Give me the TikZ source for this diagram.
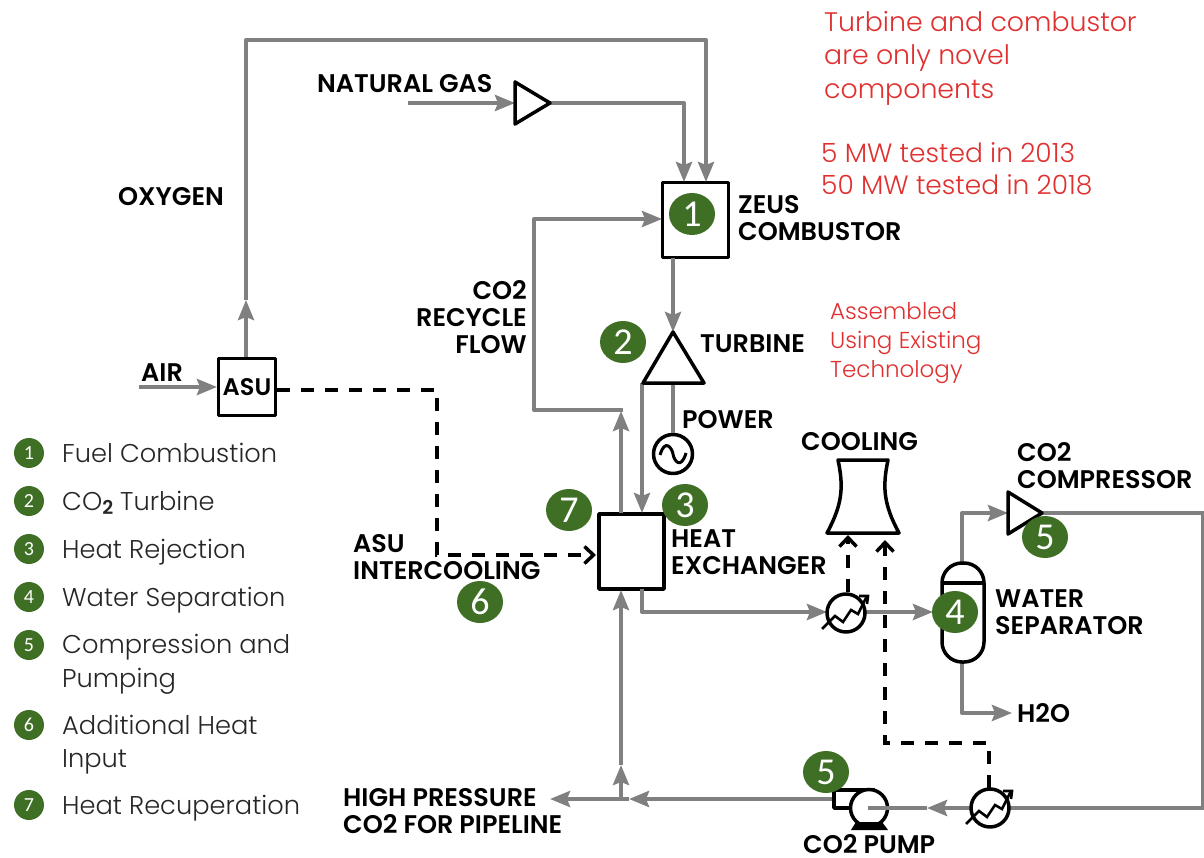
\documentclass[tikz,border=0pt]{standalone}
\usepackage{fontspec}
\setmainfont{Poppins}
\newfontfamily\lgt{Poppins Light}
\newfontfamily\lab{Poppins SemiBold}
\newfontfamily\calf{Carlito}
\usetikzlibrary{arrows.meta,calc,shapes.geometric}
\definecolor{pipe}{HTML}{808080}
\definecolor{badge}{HTML}{3F6F25}
\definecolor{note}{HTML}{E03030}
\tikzset{
  x=1pt,y=-1pt,
  pipeline/.style={draw=pipe,line width=4pt,line join=round},
  garrow/.style={pipeline,-{Stealth[length=20pt,width=16pt,inset=3pt]}},
  util/.style={draw=black,line width=3.5pt,dash pattern=on 13pt off 11pt},
  uarrow/.style={util,-{Straight Barb[length=9pt,width=17pt,line width=3.5pt]}},
  equip/.style={draw=black,line width=3.5pt,fill=white,inner sep=0pt,line join=round},
  tag/.style={font=\lab\fontsize{25.5}{27}\selectfont,align=left,anchor=west,inner sep=0pt,text=black},
  num/.style={ellipse,fill=badge,minimum width=46pt,minimum height=42pt,inner sep=0pt,text=white,font=\calf\fontsize{38}{38}\selectfont},
  lnum/.style={circle,fill=badge,minimum size=30pt,inner sep=0pt,text=white,font=\calf\fontsize{20}{20}\selectfont},
  ltext/.style={font=\lgt\fontsize{25.7}{33.5}\selectfont,align=left,anchor=west,inner sep=0pt,text=black!85},
  red1/.style={font=\lgt\fontsize{26.8}{33.5}\selectfont,align=left,anchor=west,inner sep=0pt,text=note},
  red2/.style={font=\lgt\fontsize{26.5}{32}\selectfont,align=left,anchor=west,inner sep=0pt,text=note},
  red3/.style={font=\lgt\fontsize{23}{29}\selectfont,align=left,anchor=west,inner sep=0pt,text=note},
}
\newcommand{\coolersym}[3]{%
  \node[equip,circle,minimum size=38pt] (#1) at (#2,#3) {};
  \draw[line width=2.6pt,black,line join=miter] (#2-24,#3+16) -- (#2-11,#3+3) -- (#2-3,#3+9) -- (#2+5,#3-3) -- (#2+12,#3+1) -- (#2+21,#3-17);
  \draw[line width=2.6pt,black] (#2+13,#3-17) -- (#2+22,#3-17) -- (#2+21,#3-9);
}
\begin{document}
\begin{tikzpicture}
\useasboundingbox (0,0) rectangle (1204,858);
% equipment
\node[equip,minimum width=66pt,minimum height=75pt] (comb) at (695.5,220) {};
\node[equip,minimum width=57pt,minimum height=57pt] (asu) at (247,387) {\lab\fontsize{24}{24}\selectfont ASU};
\node[equip,minimum width=65pt,minimum height=75pt] (hx) at (631.5,551.5) {};
\node[equip,circle,minimum size=39pt] (gen) at (673,454) {};
\coordinate (turbA) at (673,332);
\coordinate (turbL) at (643,383);
\coordinate (turbR) at (704,383);
\coordinate (ngB1) at (515,82);
\coordinate (ngB2) at (515,124);
\coordinate (ngT) at (550,103);
\coordinate (ccB1) at (1008,492);
\coordinate (ccB2) at (1008,534);
\coordinate (ccT) at (1042,513);
% pipes
\coordinate (o0) at (246,357); \coordinate (o1) at (246,300); \coordinate (o2) at (246,40);
\coordinate (o3) at (706,40); \coordinate (o4) at (706,182);
\draw[garrow] (o0) -- (o1);
\draw[garrow] (o1) -- (o2) -- (o3) -- (o4);
\coordinate (ng0) at (408,103); \coordinate (ng1) at (515,103);
\draw[garrow] (ng0) -- (ng1);
\coordinate (ng2) at (684,103); \coordinate (ng3) at (684,182);
\draw[garrow] (ngT) -- (ng2) -- (ng3);
\coordinate (air0) at (139,387); \coordinate (air1) at (217,387);
\draw[garrow] (air0) -- (air1);
\coordinate (r0) at (621,513); \coordinate (r1) at (621,411); \coordinate (r2) at (623,410);
\coordinate (r3) at (534,410); \coordinate (r4) at (534,219); \coordinate (r5) at (662,219);
\draw[garrow] (r0) -- (r1);
\draw[garrow] (r2) -- (r3) -- (r4) -- (r5);
\coordinate (t0) at (673,258); \coordinate (t1) at (673,332);
\draw[garrow] (t0) -- (t1);
\coordinate (t2) at (673,383);
\draw[pipeline] (t2) -- (gen.north);
\coordinate (d0) at (642,383); \coordinate (d1) at (642,513);
\draw[garrow] (d0) -- (d1);
\coordinate (e0) at (642,589); \coordinate (e1) at (642,612); \coordinate (e2) at (827,612);
\draw[garrow] (e0) -- (e1) -- (e2);
\coordinate (f0) at (866,612); \coordinate (f1) at (933,612);
\draw[garrow] (f0) -- (f1);
\coordinate (w0) at (962,562); \coordinate (w1) at (962,513); \coordinate (w2) at (1008,513);
\draw[garrow] (w0) -- (w1) -- (w2);
\coordinate (h0) at (962,663); \coordinate (h1) at (962,713); \coordinate (h2) at (1012,713);
\draw[garrow] (h0) -- (h1) -- (h2);
\coordinate (k1) at (1203,513); \coordinate (k2) at (1203,808); \coordinate (k3) at (1010,808);
\draw[pipeline,line join=miter] (ccT) -- (k1) -- (k2) -- (k3);
\coordinate (p0) at (970,808); \coordinate (p1) at (927,808); \coordinate (p2) at (868,808);
\draw[garrow] (p0) -- (p1);
\coordinate (q0) at (833,799); \coordinate (q1) at (629,799); \coordinate (q2) at (550,799);
\draw[garrow] (q0) -- (q1);
\draw[garrow] (q1) -- (q2);
\coordinate (u0) at (621,799); \coordinate (u1) at (621,765); \coordinate (u2) at (621,590);
\draw[garrow] (u0) -- (u1);
\draw[garrow] (u1) -- (u2);
% symbols
\draw[equip] (turbA) -- (turbR) -- (turbL) -- cycle;
\draw[equip] (ngB1) -- (ngT) -- (ngB2) -- cycle;
\draw[equip] (ccB1) -- (ccT) -- (ccB2) -- cycle;
\draw[line width=3pt,black] (660,455) .. controls (665,438) and (672,448) .. (673,454) .. controls (674,461) and (681,470) .. (686,453);
\coolersym{coolA}{846}{613}
\coolersym{coolB}{990}{808}
% separator
\node[equip,minimum width=42pt,minimum height=99pt,rounded corners=20pt] (sep) at (963,612.5) {};
\coordinate (sepL) at (942,583); \coordinate (sepR) at (984,583);
\draw[black,line width=3.5pt] (sepL) -- (sepR);
% pump
\coordinate (pa) at (875,790); \coordinate (pb) at (834,790); \coordinate (pc) at (834,808); \coordinate (pd) at (850,808);
\draw[black,line width=3.5pt,line join=round] (pa) -- (pb) -- (pc) -- (pd);
\node[draw=black,line width=3.5pt,circle,fill=white,minimum size=37pt,inner sep=0pt] (pump) at (869,808) {};
\draw[pipeline] (p1) -- (p2);
\fill[black] (856,822) -- (882,822) -- (888,830) -- (851,830) -- cycle;
% tower
\draw[equip] (838,460) -- (888,460) .. controls (882,488) and (884,505) .. (899,533) -- (827,533) .. controls (842,505) and (844,488) .. (838,460) -- cycle;
% dashed
\coordinate (a0) at (277,390); \coordinate (a1) at (437,390); \coordinate (a2) at (437,555); \coordinate (a3) at (596,555);
\draw[uarrow] (a0) -- (a1) -- (a2) -- (a3);
\coordinate (b0) at (848,592); \coordinate (b1) at (848,535);
\draw[uarrow] (b0) -- (b1);
\coordinate (c0) at (989,788); \coordinate (c1) at (989,743); \coordinate (c2) at (885,743); \coordinate (c3) at (885,540);
\draw[uarrow] (c0) -- (c1) -- (c2) -- (c3);
% labels
\node[tag] (lng) at (317,84) {NATURAL GAS};
\node[tag] (lox) at (118,197) {OXYGEN};
\node[tag] (lzeus) at (738,218.5) {ZEUS\\COMBUSTOR};
\node[tag,align=right,anchor=east] (lrec) at (527,317) {CO2\\RECYCLE\\FLOW};
\node[tag] (lturb) at (700,344) {TURBINE};
\node[tag] (lair) at (141,373) {AIR};
\node[tag] (lpow) at (682,420) {POWER};
\node[tag] (lcool) at (801,442) {COOLING};
\node[tag] (lcc) at (1017,465.5) {CO2\\COMPRESSOR};
\node[tag] (lhx) at (671,552) {HEAT\\EXCHANGER};
\node[tag] (lai) at (353,557) {ASU\\INTERCOOLING};
\node[tag] (lws) at (995,612) {WATER\\SEPARATOR};
\node[tag] (lh2o) at (1017,713) {H2O};
\node[tag] (lhp) at (343,811) {HIGH PRESSURE\\CO2 FOR PIPELINE};
\node[tag] (lpump) at (803,844) {CO2 PUMP};
% badges
\node[num] (n1) at (692,214) {1};
\node[num] (n2) at (623,342) {2};
\node[num] (n3) at (685,505) {3};
\node[num] (n7) at (569,510) {7};
\node[num] (n4) at (955,612) {4};
\node[num] (n5a) at (1045,537) {5};
\node[num] (n5b) at (826,772) {5};
\node[num] (n6) at (480,602) {6};
% legend
\node[lnum] (l1) at (29,453) {1};
\node[lnum] (l2) at (29,501) {2};
\node[lnum] (l3) at (29,549) {3};
\node[lnum] (l4) at (29,597) {4};
\node[lnum] (l5) at (29,645) {5};
\node[lnum] (l6) at (29,725) {6};
\node[lnum] (l7) at (29,805) {7};
\node[ltext] (t1x) at (62,453) {Fuel Combustion};
\node[ltext] (t2x) at (62,503) {CO{\raisebox{-4pt}{\lab\fontsize{19}{19}\selectfont 2}} Turbine};
\node[ltext] (t3x) at (62,552) {Heat Rejection};
\node[ltext] (t4x) at (62,600) {Water Separation};
\node[ltext] (t5x) at (62,664.5) {Compression and\\Pumping};
\node[ltext] (t6x) at (62,744.5) {Additional Heat\\Input};
\node[ltext] (t7x) at (62,808) {Heat Recuperation};
% notes
\node[red1] (r1x) at (824,58) {Turbine and combustor\\are only novel\\components};
\node[red2] (r2x) at (821,169) {5 MW tested in 2013\\50 MW tested in 2018};
\node[red3] (r3x) at (830,343) {Assembled\\Using Existing\\Technology};
\end{tikzpicture}
\end{document}
